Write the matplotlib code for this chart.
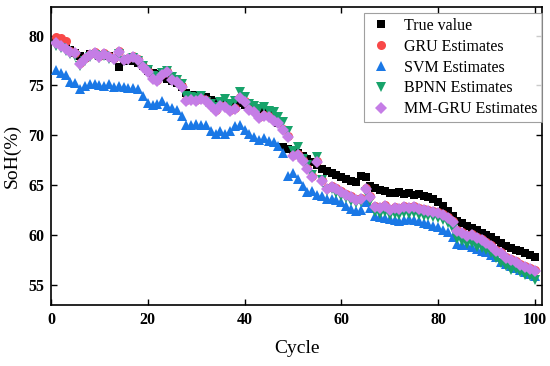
import numpy as np
import matplotlib
matplotlib.use("Agg")
import matplotlib.pyplot as plt

plt.rcParams.update({
    "font.family": "Liberation Serif",
    "xtick.direction": "in", "ytick.direction": "in",
    "xtick.top": True, "ytick.right": True,
})

# ---- data: SoH (%) per cycle ----
cycle = np.arange(1, 101)

true_soh = [
 79.5, 79.3, 79.0, 78.6, 78.3, 78.0, 77.8, 78.2, 78.2, 78.0,
 78.1, 78.0, 77.8, 76.9, 77.5, 77.6, 77.5, 77.3, 77.0, 76.5,
 76.3, 76.2, 75.9, 75.7, 75.5, 75.2, 74.8, 74.2, 74.0, 74.0,
 73.8, 73.8, 73.5, 73.3, 73.4, 73.2, 73.0, 73.2, 73.2, 73.0,
 72.8, 72.5, 72.5, 72.3, 72.0, 71.8, 71.2, 68.8, 68.6, 68.5,
 68.2, 67.9, 67.6, 67.3, 67.0, 66.6, 66.4, 66.2, 66.0, 65.8,
 65.6, 65.4, 65.3, 65.9, 65.8, 64.9, 64.7, 64.5, 64.4, 64.2,
 64.2, 64.3, 64.1, 64.2, 64.0, 64.1, 63.9, 63.8, 63.6, 63.3,
 62.9, 62.4, 61.9, 61.4, 61.2, 60.9, 60.7, 60.5, 60.2, 60.0,
 59.8, 59.5, 59.2, 58.9, 58.7, 58.5, 58.4, 58.2, 58.0, 57.8]

gru = [
 79.9, 79.8, 79.5, 78.5, 78.3, 77.3, 77.8, 78.2, 78.4, 78.0,
 78.3, 78.0, 77.8, 78.5, 77.7, 77.8, 78.0, 77.7, 77.0, 76.5,
 75.8, 75.6, 76.2, 76.5, 75.7, 75.5, 74.9, 73.5, 73.6, 73.5,
 73.7, 73.5, 73.0, 72.5, 73.0, 72.9, 72.5, 72.7, 73.8, 73.4,
 72.6, 72.4, 71.8, 72.0, 71.9, 71.5, 71.3, 70.6, 69.9, 68.0,
 68.1, 67.5, 66.7, 65.9, 67.4, 65.5, 64.7, 64.9, 64.7, 64.4,
 64.1, 63.9, 63.6, 63.7, 64.7, 63.9, 62.9, 62.8, 63.0, 62.6,
 62.8, 62.7, 62.9, 62.8, 62.9, 62.7, 62.6, 62.5, 62.4, 62.3,
 62.1, 61.8, 61.4, 60.5, 60.3, 60.0, 60.1, 59.8, 59.6, 59.3,
 59.0, 58.5, 58.3, 57.8, 57.6, 57.4, 57.1, 56.9, 56.7, 56.5]

svm = [
 76.6, 76.3, 76.1, 75.4, 75.3, 74.6, 74.9, 75.1, 75.1, 75.0,
 74.9, 75.1, 74.8, 74.9, 74.8, 74.7, 74.7, 74.6, 73.9, 73.2,
 73.0, 73.1, 73.4, 72.9, 72.7, 72.5, 71.9, 71.0, 71.0, 71.1,
 71.0, 71.0, 70.4, 70.1, 70.4, 70.1, 70.4, 70.9, 71.0, 70.5,
 70.1, 69.8, 69.5, 69.7, 69.4, 69.3, 68.9, 68.2, 65.9, 66.2,
 65.6, 64.9, 64.3, 64.4, 64.0, 63.9, 63.6, 63.6, 63.5, 63.3,
 62.9, 62.6, 62.4, 62.5, 63.3, 62.7, 61.9, 61.8, 61.7, 61.6,
 61.5, 61.4, 61.5, 61.6, 61.5, 61.4, 61.2, 61.1, 60.9, 60.8,
 60.5, 60.3, 59.8, 59.1, 59.0, 59.0, 58.8, 58.6, 58.4, 58.3,
 58.0, 57.8, 57.3, 57.1, 56.9, 56.7, 56.5, 56.3, 56.1, 55.9]

bpnn = [
 79.0, 78.8, 78.5, 78.2, 78.0, 77.0, 77.5, 77.9, 78.1, 77.8,
 78.0, 77.7, 77.6, 78.2, 77.5, 77.6, 77.8, 77.5, 77.0, 76.6,
 76.0, 75.9, 76.3, 76.5, 75.9, 75.6, 75.1, 73.9, 73.8, 73.7,
 73.9, 73.3, 73.1, 72.8, 73.3, 73.6, 73.1, 73.4, 74.3, 73.8,
 73.1, 72.9, 72.6, 72.8, 72.4, 72.3, 71.8, 71.3, 70.4, 68.4,
 68.8, 67.6, 67.0, 66.0, 67.8, 65.5, 64.4, 64.6, 64.2, 63.9,
 63.7, 63.4, 63.2, 63.3, 64.3, 63.4, 62.3, 62.1, 62.3, 62.0,
 62.1, 62.0, 62.2, 62.1, 62.2, 62.0, 61.9, 61.9, 61.8, 61.7,
 61.5, 61.2, 60.6, 59.6, 59.4, 59.1, 59.2, 58.8, 58.7, 58.5,
 58.2, 57.7, 57.2, 56.9, 56.5, 56.6, 56.3, 56.0, 55.9, 55.5]

mm_gru = [
 79.3, 79.0, 78.7, 78.4, 78.3, 77.2, 77.7, 78.1, 78.3, 77.9,
 78.2, 77.9, 77.7, 78.4, 77.6, 77.7, 77.9, 77.6, 76.9, 76.4,
 75.7, 75.5, 76.1, 76.4, 75.6, 75.4, 74.8, 73.4, 73.5, 73.4,
 73.6, 73.4, 72.9, 72.4, 72.9, 72.8, 72.4, 72.6, 73.7, 73.3,
 72.5, 72.3, 71.7, 71.9, 71.8, 71.4, 71.2, 70.5, 69.8, 67.9,
 68.0, 67.4, 66.6, 65.8, 67.3, 65.4, 64.6, 64.8, 64.6, 64.3,
 64.0, 63.8, 63.5, 63.6, 64.6, 63.8, 62.8, 62.7, 62.9, 62.5,
 62.7, 62.6, 62.8, 62.7, 62.8, 62.6, 62.5, 62.4, 62.3, 62.2,
 62.0, 61.7, 61.3, 60.4, 60.2, 59.9, 60.0, 59.7, 59.5, 59.2,
 58.9, 58.4, 58.2, 57.7, 57.5, 57.3, 57.0, 56.8, 56.6, 56.4]

series = [
    ("True value", true_soh, "s", "#000000", 6.0),
    ("GRU Estimates", gru, "o", "#f84848", 6.5),
    ("SVM Estimates", svm, "^", "#1a78e6", 7.0),
    ("BPNN Estimates", bpnn, "v", "#17a36a", 7.0),
    ("MM-GRU Estimates", mm_gru, "D", "#c57de6", 5.8),
]

fig = plt.figure(figsize=(5.5, 3.66), dpi=100)
ax = fig.add_axes([0.0927, 0.166, 0.893, 0.816])

for i, (lab, vals, mk, col, ms) in enumerate(series):
    ax.plot(cycle, vals, ls="none", marker=mk, ms=ms, color=col,
            markeredgewidth=0, label=lab, zorder=3 + i)

ax.set_xlim(0, 101.5)
ax.set_ylim(53, 82.9)
ax.set_xticks([0, 20, 40, 60, 80, 100])
ax.set_yticks([55, 60, 65, 70, 75, 80])
ax.tick_params(length=4.5, width=1.0, labelsize=11.5, pad=5)
for t in ax.get_xticklabels() + ax.get_yticklabels():
    t.set_fontweight("bold")
for s in ax.spines.values():
    s.set_linewidth(1.2)

ax.set_xlabel("Cycle", fontsize=14)
ax.set_ylabel("SoH(%)", fontsize=14)
ax.xaxis.set_label_coords(0.5, -0.115)
ax.yaxis.set_label_coords(-0.062, 0.5)

leg = ax.legend(loc="upper right", bbox_to_anchor=(1.0, 0.978), borderaxespad=0,
                fontsize=11.5, frameon=True, fancybox=False, handletextpad=0.6,
                labelspacing=0.3, borderpad=0.3, handlelength=1.6)
leg.get_frame().set_edgecolor("#888888")
leg.get_frame().set_linewidth(0.8)

fig.savefig("out.png", dpi=100)
